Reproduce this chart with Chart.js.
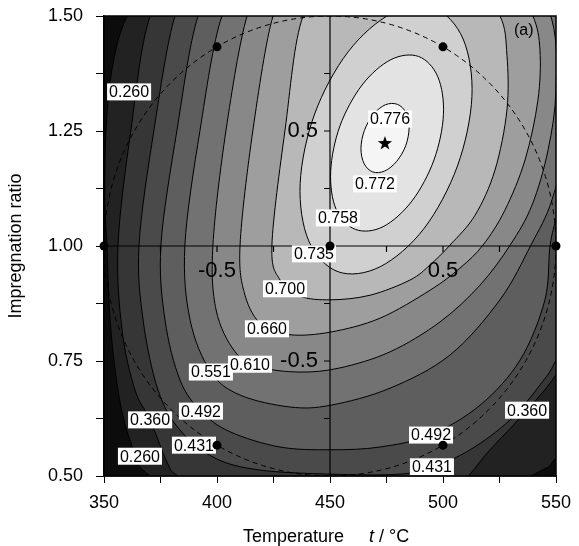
<!DOCTYPE html>
<html>
<head>
<meta charset="utf-8">
<script src="https://cdn.jsdelivr.net/npm/chart.js@4.4.1/dist/chart.umd.min.js"></script>
<style>
  html, body { margin: 0; padding: 0; background: #fff; }
</style>
</head>
<body>
<canvas id="c" width="579" height="546"></canvas>
<script>
// contour levels, outermost first
const levels = [0.260, 0.360, 0.431, 0.492, 0.551, 0.610, 0.660, 0.700, 0.735, 0.758, 0.772];

// contour lines, [t (°C), impregnation ratio]
const c260 = [[360.2,1.500],[353.5,1.383],[350.9,1.252],[350.4,1.100],[351.3,1.002],[352.7,0.839],[356.2,0.687],[361.5,0.578],[370.4,0.500],[414.6,0.383],[481.0,0.361],[538.9,0.500],[550.0,0.539],[569.5,0.665],[582.8,1.002],[587.2,1.317],[573.9,1.600],[516.4,1.839],[436.7,1.817],[379.2,1.665]];
const c360 = [[370.4,1.500],[361.9,1.252],[356.2,1.002],[358.0,0.817],[363.7,0.687],[370.4,0.622],[377.9,0.530],[382.7,0.500],[401.3,0.448],[450.4,0.415],[498.7,0.448],[511.1,0.500],[519.9,0.552],[537.2,0.643],[550.0,0.720],[560.6,0.817],[569.5,1.002],[574.8,1.317],[565.1,1.600],[507.5,1.796],[436.7,1.774],[388.1,1.643]];
const c431 = [[381.4,1.500],[372.1,1.252],[365.5,1.002],[367.3,0.839],[373.9,0.687],[383.6,0.600],[399.1,0.539],[419.0,0.513],[450.4,0.504],[481.0,0.504],[495.6,0.520],[512.0,0.557],[529.7,0.622],[542.9,0.698],[550.0,0.752],[560.6,0.883],[567.3,1.100],[569.5,1.317],[560.6,1.535],[534.1,1.709],[481.0,1.774],[419.0,1.687],[392.5,1.578]];
const c492 = [[391.6,1.500],[382.3,1.252],[375.2,1.002],[377.0,0.839],[383.6,0.709],[392.9,0.641],[405.8,0.596],[427.9,0.563],[450.4,0.557],[472.1,0.563],[494.3,0.589],[516.4,0.654],[534.1,0.752],[545.1,0.883],[547.4,1.002],[550.9,1.078],[558.4,1.252],[560.6,1.448],[547.4,1.643],[503.1,1.752],[445.6,1.730],[405.8,1.622]];
const c551 = [[402.2,1.500],[392.5,1.252],[385.8,1.002],[388.1,0.839],[397.3,0.726],[410.2,0.676],[432.3,0.650],[450.4,0.654],[476.6,0.691],[503.1,0.763],[525.2,0.883],[538.9,1.002],[548.2,1.100],[555.3,1.252],[556.2,1.426],[545.1,1.600],[503.1,1.709],[450.0,1.687],[416.8,1.600]];
const c610 = [[413.3,1.500],[404.0,1.252],[398.2,1.002],[399.6,0.861],[408.0,0.770],[419.0,0.737],[436.7,0.726],[454.4,0.735],[476.6,0.770],[498.7,0.835],[516.4,0.915],[529.7,1.002],[539.4,1.089],[546.5,1.209],[550.0,1.339],[548.2,1.491],[534.1,1.622],[494.3,1.687],[445.6,1.654],[423.5,1.578]];
const c660 = [[424.8,1.500],[415.9,1.252],[410.2,1.002],[412.4,0.893],[419.9,0.828],[432.3,0.807],[450.4,0.813],[472.1,0.843],[494.3,0.904],[507.5,0.952],[517.7,1.002],[527.4,1.078],[536.3,1.187],[542.0,1.317],[542.9,1.426],[539.8,1.500],[529.7,1.589],[494.3,1.643],[454.4,1.622],[434.5,1.557]];
const c700 = [[438.1,1.500],[430.1,1.252],[424.3,1.002],[427.9,0.926],[436.7,0.891],[450.4,0.883],[467.7,0.893],[485.4,0.926],[494.3,0.959],[503.1,1.002],[514.2,1.067],[523.0,1.165],[528.3,1.296],[528.3,1.415],[525.2,1.500],[512.0,1.574],[481.0,1.600],[454.4,1.567]];
const c735 = [[496.0,1.517],[508.9,1.450],[512.8,1.325],[506.4,1.174],[491.6,1.038],[472.2,0.955],[453.6,0.944],[440.6,1.011],[436.8,1.136],[443.2,1.287],[458.0,1.422],[477.4,1.506]];
const c758 = [[489.2,1.412],[497.7,1.368],[500.2,1.286],[496.0,1.187],[486.3,1.098],[473.5,1.042],[461.3,1.036],[452.7,1.080],[450.3,1.162],[454.4,1.261],[464.2,1.350],[476.9,1.405]];
const c772 = [[479.8,1.308],[483.6,1.290],[485.0,1.257],[483.5,1.218],[479.5,1.184],[474.2,1.163],[468.9,1.161],[465.1,1.179],[463.7,1.212],[465.2,1.251],[469.2,1.286],[474.5,1.307]];

// contour value labels
const labelText = ['0.260','0.260','0.360','0.360','0.431','0.431','0.492','0.492','0.551','0.610','0.660','0.700','0.735','0.758','0.772','0.776'];
const labelT = [361.1, 365.9, 370.4, 537.2, 389.8, 495.1, 392.9, 494.7, 397.3, 414.6, 422.1, 430.1, 442.9, 453.5, 469.9, 476.6];
const labelR = [1.335, 0.543, 0.622, 0.643, 0.567, 0.520, 0.641, 0.589, 0.726, 0.743, 0.820, 0.907, 0.983, 1.061, 1.135, 1.276];

// design points and optimum
const designT = [400, 500, 350, 450, 550, 400, 500];
const designR = [1.433, 1.433, 1.00, 1.00, 1.00, 0.567, 0.567];
const optimumT = [474.3];
const optimumR = [1.224];

// coded axes through the centre of the domain
const codedTicks = [-0.75, -0.5, -0.25, 0.25, 0.5, 0.75];
const codedLabels = [-0.5, 0.5];
const centreT = 450, spanT = 100, centreR = 1.0, spanR = 0.5;

const contours = [c260, c360, c431, c492, c551, c610, c660, c700, c735, c758, c772];
const bandColors = ['#0c0c0c','#222222','#363636','#4a4a4a','#5e5e5e','#727272','#888888','#9e9e9e','#b8b8b8','#d0d0d0','#e3e3e3','#f5f5f5'];
const FONT = '"Liberation Sans", Arial, sans-serif';

function closedCurve(ctx, pts) {
  const n = pts.length;
  ctx.moveTo(pts[0][0], pts[0][1]);
  for (let i = 0; i < n; i++) {
    const p0 = pts[(i - 1 + n) % n], p1 = pts[i], p2 = pts[(i + 1) % n], p3 = pts[(i + 2) % n];
    ctx.bezierCurveTo(
      p1[0] + (p2[0] - p0[0]) / 6, p1[1] + (p2[1] - p0[1]) / 6,
      p2[0] - (p3[0] - p1[0]) / 6, p2[1] - (p3[1] - p1[1]) / 6,
      p2[0], p2[1]);
  }
  ctx.closePath();
}

const contourPlugin = {
  id: 'contours',
  beforeDatasetsDraw(chart) {
    const {ctx, chartArea: a, scales: {x, y}} = chart;
    const toPx = p => [x.getPixelForValue(p[0]), y.getPixelForValue(p[1])];
    ctx.save();
    ctx.beginPath();
    ctx.rect(a.left, a.top, a.right - a.left, a.bottom - a.top);
    ctx.clip();
    ctx.fillStyle = bandColors[0];
    ctx.fillRect(a.left, a.top, a.right - a.left, a.bottom - a.top);
    contours.forEach((c, i) => {
      ctx.beginPath();
      closedCurve(ctx, c.map(toPx));
      ctx.fillStyle = bandColors[i + 1];
      ctx.fill();
    });
    ctx.strokeStyle = '#000';
    ctx.lineWidth = 1;
    contours.forEach(c => {
      ctx.beginPath();
      closedCurve(ctx, c.map(toPx));
      ctx.stroke();
    });

    // experimental domain
    const cx = x.getPixelForValue(centreT), cy = y.getPixelForValue(centreR);
    const rx = x.getPixelForValue(centreT + spanT) - cx;
    const ry = cy - y.getPixelForValue(centreR + spanR);
    ctx.setLineDash([5, 4]);
    ctx.beginPath();
    ctx.ellipse(cx, cy, rx, ry, 0, 0, Math.PI * 2);
    ctx.stroke();
    ctx.setLineDash([]);

    // coded axes
    ctx.lineWidth = 1.2;
    ctx.beginPath();
    ctx.moveTo(cx, a.top); ctx.lineTo(cx, a.bottom);
    ctx.moveTo(a.left, cy); ctx.lineTo(a.right, cy);
    codedTicks.forEach(v => {
      const tx = x.getPixelForValue(centreT + spanT * v);
      ctx.moveTo(tx, cy); ctx.lineTo(tx, cy + 6);
      const ty = y.getPixelForValue(centreR + spanR * v);
      ctx.moveTo(cx, ty); ctx.lineTo(cx - 6, ty);
    });
    ctx.stroke();
    ctx.restore();

    ctx.save();
    ctx.fillStyle = '#000';
    ctx.font = '22px ' + FONT;
    ctx.textBaseline = 'middle';
    codedLabels.forEach(v => {
      const s = v < 0 ? '-' + Math.abs(v) : String(v);
      ctx.textAlign = 'center';
      ctx.fillText(s, x.getPixelForValue(centreT + spanT * v), cy + 25);
      ctx.textAlign = 'right';
      ctx.fillText(s, cx - 12, y.getPixelForValue(centreR + spanR * v));
    });

    // contour labels
    ctx.font = '16px ' + FONT;
    ctx.textAlign = 'center';
    labelText.forEach((s, i) => {
      const lx = x.getPixelForValue(labelT[i]), ly = y.getPixelForValue(labelR[i]);
      const w = ctx.measureText(s).width + 4;
      ctx.fillStyle = '#fff';
      ctx.fillRect(lx - w / 2, ly - 8.5, w, 17);
      ctx.fillStyle = '#000';
      ctx.fillText(s, lx, ly + 1);
    });

    // frame
    ctx.strokeStyle = '#000';
    ctx.lineWidth = 1.5;
    ctx.strokeRect(a.left, a.top, a.right - a.left, a.bottom - a.top);
    ctx.font = '16px ' + FONT;
    ctx.textAlign = 'left';
    ctx.fillText('(a)', a.right - 42, a.top + 15);
    ctx.restore();
  },
  afterDraw(chart) {
    const {ctx} = chart;
    ctx.save();
    ctx.fillStyle = '#000';
    ctx.textBaseline = 'middle';
    ctx.textAlign = 'left';
    ctx.font = '18px ' + FONT;
    ctx.fillText('Temperature', 243, 537);
    ctx.font = 'italic 18px ' + FONT;
    ctx.fillText('t', 369, 537);
    const tw = ctx.measureText('t').width;
    ctx.font = '18px ' + FONT;
    ctx.fillText(' / °C', 369 + tw, 537);
    ctx.restore();
  }
};

// filled star marker
const star = document.createElement('canvas');
star.width = 16; star.height = 16;
(() => {
  const g = star.getContext('2d');
  g.fillStyle = '#000';
  g.beginPath();
  for (let i = 0; i < 10; i++) {
    const r = i % 2 ? 3 : 7.5;
    const ang = -Math.PI / 2 + i * Math.PI / 5;
    g.lineTo(8 + r * Math.cos(ang), 8.5 + r * Math.sin(ang));
  }
  g.closePath();
  g.fill();
})();

new Chart(document.getElementById('c'), {
  type: 'scatter',
  data: {
    datasets: [
      {
        data: designT.map((t, i) => ({x: t, y: designR[i]})),
        pointRadius: 4.5,
        pointBackgroundColor: '#000',
        pointBorderWidth: 0,
        clip: false,
      },
      {
        data: optimumT.map((t, i) => ({x: t, y: optimumR[i]})),
        pointStyle: star,
        clip: false,
      },
    ],
  },
  options: {
    responsive: false,
    animation: false,
    devicePixelRatio: 1,
    layout: {padding: {top: 16, right: 23, left: 0, bottom: 0}},
    plugins: {legend: {display: false}, tooltip: {enabled: false}},
    scales: {
      x: {
        type: 'linear', min: 350, max: 550,
        afterFit: s => { s.height = 70; s.paddingLeft = 0; s.paddingRight = 0; },
        ticks: {
          stepSize: 25, autoSkip: false, maxRotation: 0, padding: 9, color: '#000',
          font: {family: FONT, size: 18},
          callback: v => v % 50 === 0 ? String(v) : '',
        },
        grid: {drawOnChartArea: false, tickLength: 7, color: '#000'},
        border: {color: '#000', width: 1.5},
      },
      y: {
        type: 'linear', min: 0.5, max: 1.5,
        afterFit: s => { s.width = 104; s.paddingTop = 0; s.paddingBottom = 0; },
        ticks: {
          stepSize: 0.125, autoSkip: false, padding: 13, color: '#000',
          font: {family: FONT, size: 18},
          callback: v => Math.abs(v * 4 - Math.round(v * 4)) < 1e-6 ? v.toFixed(2) : '',
        },
        grid: {drawOnChartArea: false, tickLength: 8, color: '#000'},
        border: {color: '#000', width: 1.5},
        title: {display: true, text: 'Impregnation ratio', color: '#000', font: {family: FONT, size: 18}, padding: {top: 5}},
      },
    },
  },
  plugins: [contourPlugin],
});
</script>
</body>
</html>
